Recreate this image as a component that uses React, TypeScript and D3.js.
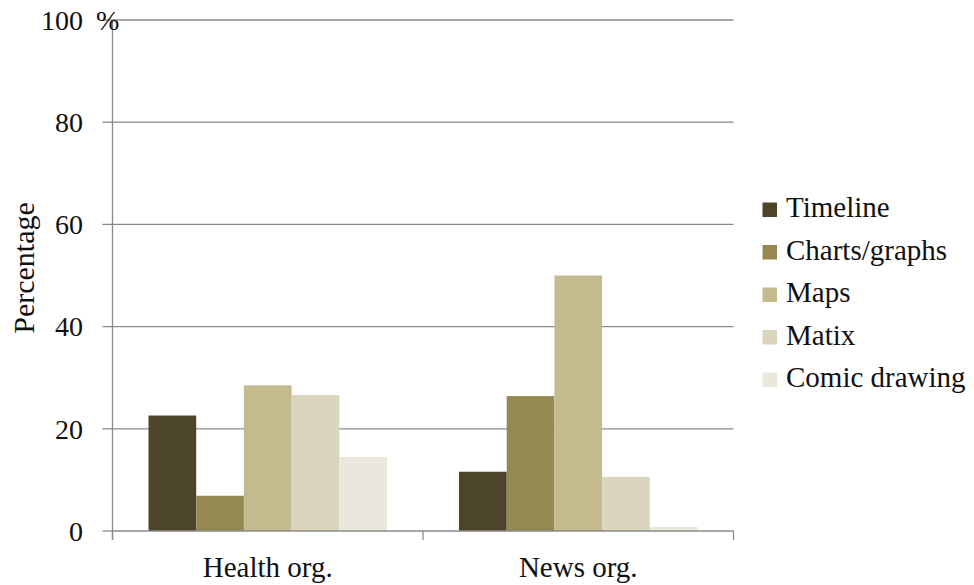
import React from "react";
import * as d3 from "d3";

const categories = ["Health org.", "News org."];
const seriesNames = ["Timeline", "Charts/graphs", "Maps", "Matix", "Comic drawing"];
const healthValues = [22.6, 6.9, 28.5, 26.6, 14.5];
const newsValues = [11.6, 26.4, 50.0, 10.6, 0.8];
const seriesColors = ["#4d4529", "#958953", "#c3ba8e", "#dad6bd", "#eae8dc"];
const yTicks = [0, 20, 40, 60, 80, 100];

const W = 974;
const H = 585;
const FONT =
  "'Liberation Serif', 'DejaVu Serif', 'Noto Serif', 'Nimbus Roman', 'Nimbus Roman No9 L', FreeSerif, Times, 'Times New Roman', serif";
const GRID = "#8a8a8a";
const textStyle = { fontFamily: FONT };

export default function App() {
  const valuesByCategory = [healthValues, newsValues];

  const x0 = d3.scaleBand<string>().domain(categories).range([112.5, 733.5]).paddingInner(0).paddingOuter(0);
  const x1 = d3
    .scaleBand<string>()
    .domain(seriesNames)
    .range([0, x0.bandwidth()])
    .paddingInner(0)
    .paddingOuter(0.755);
  const y = d3.scaleLinear().domain([0, 100]).range([531, 20]);

  const [xl, xr] = x0.range();
  const xTickPositions = [xl, ...categories.map((c) => (x0(c) as number) + x0.bandwidth())];

  return (
    <svg
      width={W}
      height={H}
      viewBox={`0 0 ${W} ${H}`}
      style={{ position: "absolute", left: 0, top: 0, background: "#fff", fontFamily: FONT }}
    >
      {/* horizontal gridlines */}
      {yTicks
        .filter((t) => t > 0)
        .map((t) => (
          <line key={`g${t}`} x1={xl} x2={xr} y1={y(t)} y2={y(t)} stroke={GRID} strokeWidth={1.3} />
        ))}

      {/* bars */}
      {categories.map((cat, ci) => (
        <g key={cat} transform={`translate(${x0(cat)},0)`}>
          {seriesNames.map((s, si) => {
            const v = valuesByCategory[ci][si];
            return (
              <rect
                key={s}
                x={x1(s)}
                y={y(v)}
                width={x1.bandwidth()}
                height={y(0) - y(v)}
                fill={seriesColors[si]}
              />
            );
          })}
        </g>
      ))}

      {/* y axis */}
      <line x1={xl} x2={xl} y1={y(100)} y2={y(0) + 9} stroke={GRID} strokeWidth={1.3} />
      {yTicks.map((t) => (
        <g key={`t${t}`}>
          <line x1={xl - 10} x2={xl} y1={y(t)} y2={y(t)} stroke={GRID} strokeWidth={1.3} />
          <text x={83} y={y(t)} dy="0.35em" textAnchor="end" fontSize={28} fill="#111" style={textStyle}>
            {t}
          </text>
        </g>
      ))}
      <text x={96} y={y(100)} dy="0.35em" fontSize={28} fill="#111" style={textStyle}>
        %
      </text>

      {/* x axis */}
      <line x1={xl} x2={xr} y1={y(0)} y2={y(0)} stroke={GRID} strokeWidth={1.3} />
      {xTickPositions.map((px, i) => (
        <line key={`xt${i}`} x1={px} x2={px} y1={y(0)} y2={y(0) + 9} stroke={GRID} strokeWidth={1.3} />
      ))}
      {categories.map((cat) => (
        <text
          key={`l${cat}`}
          x={(x0(cat) as number) + x0.bandwidth() / 2}
          y={577}
          textAnchor="middle"
          fontSize={29}
          fill="#111"
          style={textStyle}
        >
          {cat}
        </text>
      ))}

      {/* y axis title */}
      <text
        transform={`translate(34,268) rotate(-90)`}
        textAnchor="middle"
        fontSize={30}
        fill="#111"
        style={textStyle}
      >
        Percentage
      </text>

      {/* legend */}
      {seriesNames.map((s, i) => {
        const top = 202.5 + i * 42.5;
        return (
          <g key={`lg${s}`}>
            <rect x={762.5} y={top} width={14.5} height={14.5} fill={seriesColors[i]} />
            <text x={786} y={top + 14.5} fontSize={29} fill="#111" style={textStyle}>
              {s}
            </text>
          </g>
        );
      })}
    </svg>
  );
}
